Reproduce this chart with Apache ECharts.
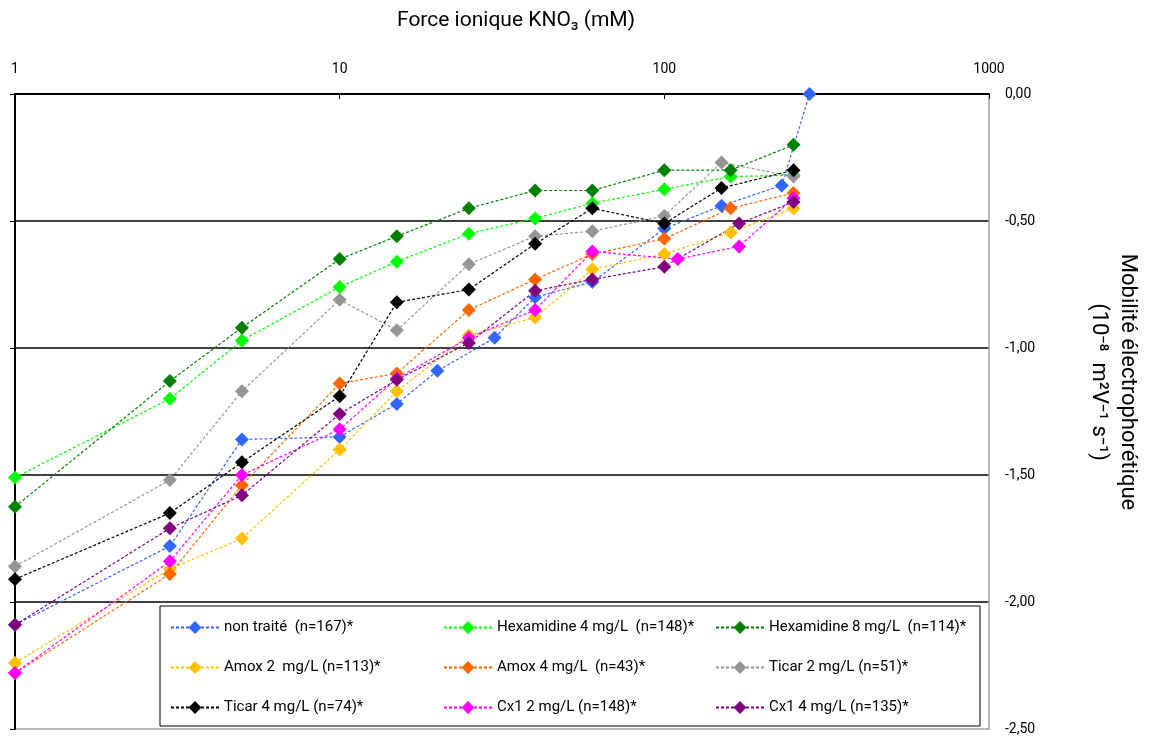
<!DOCTYPE html>
<html>
<head>
<meta charset="utf-8">
<script src="https://cdn.jsdelivr.net/npm/echarts@6/dist/echarts.min.js"></script>
<style>
  html, body { margin: 0; padding: 0; background: #fff; }
  #chart { width: 1151px; height: 745px; }
</style>
</head>
<body>
<div id="chart"></div>
<script>
// ---- Data ----
const xTicks = [1, 10, 100, 1000];
const yTicks = [0, -0.5, -1, -1.5, -2, -2.5];

const xNonTraite = [1, 3, 5, 10, 15, 20, 30, 40, 60, 100, 150, 230, 280];
const yNonTraite = [-2.09, -1.78, -1.36, -1.35, -1.22, -1.09, -0.96, -0.80, -0.74, -0.53, -0.44, -0.36, 0.00];

const xHex4 = [1, 3, 5, 10, 15, 25, 40, 60, 100, 160, 250];
const yHex4 = [-1.51, -1.20, -0.97, -0.76, -0.66, -0.55, -0.49, -0.43, -0.375, -0.325, -0.32];

const xHex8 = [1, 3, 5, 10, 15, 25, 40, 60, 100, 160, 250];
const yHex8 = [-1.625, -1.13, -0.92, -0.65, -0.56, -0.45, -0.38, -0.38, -0.30, -0.30, -0.20];

const xAmox2 = [1, 3, 5, 10, 15, 25, 40, 60, 100, 160, 250];
const yAmox2 = [-2.24, -1.87, -1.75, -1.40, -1.17, -0.95, -0.88, -0.69, -0.63, -0.545, -0.45];

const xAmox4 = [1, 3, 5, 10, 15, 25, 40, 60, 100, 160, 250];
const yAmox4 = [-2.28, -1.89, -1.54, -1.14, -1.10, -0.85, -0.73, -0.63, -0.57, -0.45, -0.39];

const xTicar2 = [1, 3, 5, 10, 15, 25, 40, 60, 100, 150, 250];
const yTicar2 = [-1.86, -1.52, -1.17, -0.81, -0.93, -0.67, -0.56, -0.54, -0.48, -0.27, -0.325];

const xTicar4 = [1, 3, 5, 10, 15, 25, 40, 60, 100, 150, 250];
const yTicar4 = [-1.91, -1.65, -1.45, -1.19, -0.82, -0.77, -0.59, -0.45, -0.51, -0.37, -0.30];

const xCx2 = [1, 3, 5, 10, 15, 25, 40, 60, 110, 170, 250];
const yCx2 = [-2.28, -1.84, -1.50, -1.32, -1.12, -0.96, -0.85, -0.62, -0.65, -0.60, -0.41];

const xCx4 = [1, 3, 5, 10, 15, 25, 40, 60, 100, 170, 250];
const yCx4 = [-2.09, -1.71, -1.58, -1.26, -1.125, -0.98, -0.775, -0.73, -0.68, -0.51, -0.425];

const seriesNames = [
  'non traité  (n=167)*',
  'Hexamidine 4 mg/L  (n=148)*',
  'Hexamidine 8 mg/L  (n=114)*',
  'Amox 2  mg/L (n=113)*',
  'Amox 4 mg/L  (n=43)*',
  'Ticar 2 mg/L (n=51)*',
  'Ticar 4 mg/L (n=74)*',
  'Cx1 2 mg/L (n=148)*',
  'Cx1 4 mg/L (n=135)*'
];
const seriesColors = ['#3366FF', '#00FF00', '#008000', '#FFC000', '#FF6600', '#969696', '#000000', '#FF00FF', '#800080'];
const seriesX = [xNonTraite, xHex4, xHex8, xAmox2, xAmox4, xTicar2, xTicar4, xCx2, xCx4];
const seriesY = [yNonTraite, yHex4, yHex8, yAmox2, yAmox4, yTicar2, yTicar4, yCx2, yCx4];

const FONT = 'Roboto, "Open Sans", sans-serif';

const series = seriesNames.map((name, i) => ({
  name: name,
  type: 'line',
  xAxisIndex: 0,
  yAxisIndex: 0,
  data: seriesX[i].map((x, j) => [x, seriesY[i][j]]),
  symbol: 'diamond',
  symbolSize: 14,
  color: seriesColors[i],
  itemStyle: { color: seriesColors[i] },
  lineStyle: { color: seriesColors[i], width: 1.2, type: [3, 2] },
  emphasis: { disabled: true },
  animation: false,
  z: 2
}));

const legendCols = [
  { left: 170, names: [seriesNames[0], seriesNames[3], seriesNames[6]] },
  { left: 443, names: [seriesNames[1], seriesNames[4], seriesNames[7]] },
  { left: 715, names: [seriesNames[2], seriesNames[5], seriesNames[8]] }
];

const legends = legendCols.map(c => ({
  orient: 'vertical',
  left: c.left,
  top: 620,
  padding: 0,
  itemWidth: 48,
  itemHeight: 16,
  itemGap: 25,
  selectedMode: false,
  data: c.names,
  textStyle: { fontFamily: FONT, fontSize: 15, color: '#000' },
  z: 5
}));

const fmtY = v => v.toFixed(2).replace('.', ',');

const chart = echarts.init(document.getElementById('chart'), null, { renderer: 'canvas' });
chart.setOption({
  backgroundColor: '#fff',
  animation: false,
  textStyle: { fontFamily: FONT },
  grid: { left: 15, right: 162, top: 94, bottom: 16, containLabel: false },
  xAxis: {
    type: 'log',
    logBase: 10,
    min: xTicks[0],
    max: xTicks[xTicks.length - 1],
    position: 'top',
    axisLine: { show: true, lineStyle: { color: '#000', width: 2 } },
    axisTick: { show: true, inside: true, length: 5, lineStyle: { color: '#000' } },
    axisLabel: { color: '#000', fontSize: 14, margin: 18, formatter: v => String(Math.round(v)) },
    splitLine: { show: false },
    minorTick: { show: false }
  },
  yAxis: [
    {
      type: 'value',
      position: 'right',
      min: yTicks[yTicks.length - 1],
      max: yTicks[0],
      interval: 0.5,
      axisLine: { show: true, lineStyle: { color: '#a0a0a0', width: 1.5 } },
      axisTick: { show: false },
      axisLabel: { color: '#000', fontSize: 14, margin: 16, formatter: fmtY },
      splitLine: { show: true, lineStyle: { color: ['#a0a0a0', '#000', '#000', '#000', '#000', '#000'], width: 1.5 } }
    },
    {
      type: 'value',
      position: 'left',
      min: yTicks[yTicks.length - 1],
      max: yTicks[0],
      interval: 0.5,
      axisLine: { show: true, lineStyle: { color: '#000', width: 2 } },
      axisTick: { show: true, inside: false, length: 5, lineStyle: { color: '#000' } },
      axisLabel: { show: false },
      splitLine: { show: false }
    }
  ],
  legend: legends,
  graphic: [
    {
      type: 'rect',
      z: 3,
      shape: { x: 160, y: 606, width: 820, height: 120 },
      style: { fill: '#fff', stroke: '#000', lineWidth: 1 }
    },
    {
      type: 'text',
      z: 5,
      x: 516,
      y: 21,
      style: {
        text: 'Force ionique KNO₃ (mM)',
        fontFamily: FONT,
        fontSize: 21,
        fill: '#000',
        align: 'center',
        verticalAlign: 'middle'
      }
    },
    {
      type: 'text',
      z: 5,
      x: 1113,
      y: 382,
      rotation: -Math.PI / 2,
      style: {
        text: 'Mobilité électrophorétique\n(10⁻⁸  m²V⁻¹ s⁻¹)',
        fontFamily: FONT,
        fontSize: 22,
        lineHeight: 29,
        fill: '#000',
        align: 'center',
        verticalAlign: 'middle'
      }
    }
  ],
  series: series
});
</script>
</body>
</html>
